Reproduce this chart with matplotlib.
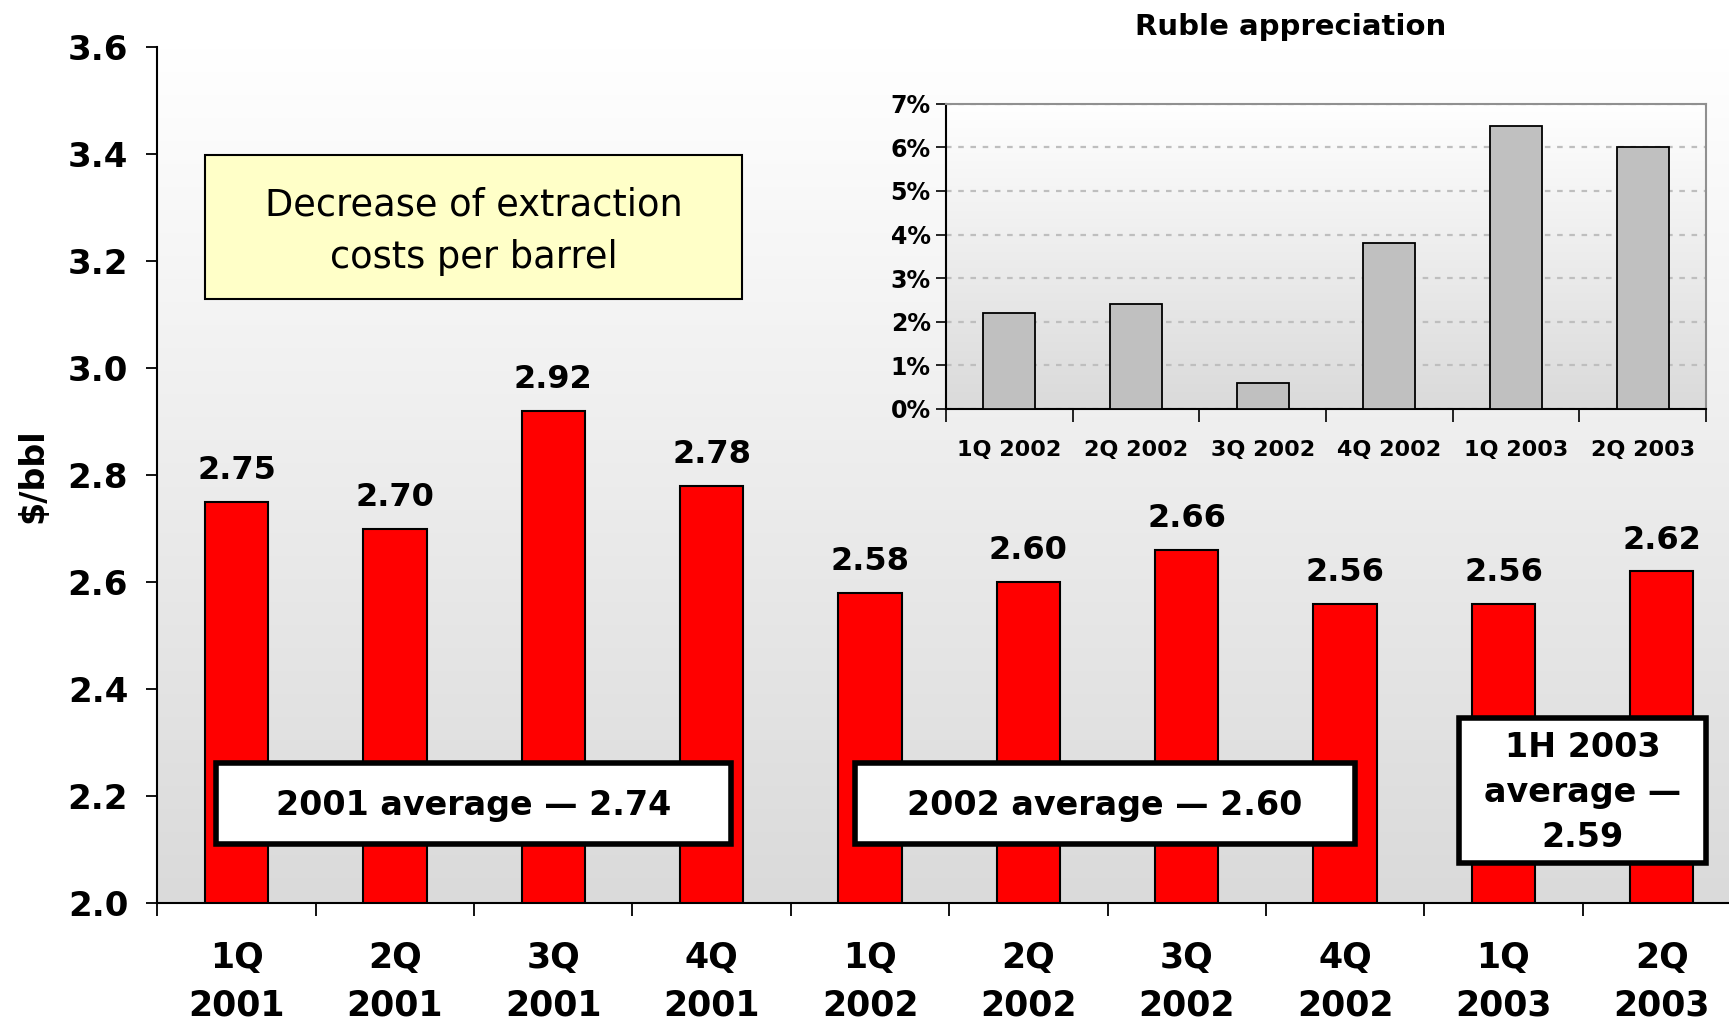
import numpy as np
import matplotlib
matplotlib.use("Agg")
import matplotlib.pyplot as plt
from matplotlib.patches import Rectangle

plt.rcParams['font.family'] = ['DejaVu Sans']

# ---- data ----
categories = ["1Q\n2001", "2Q\n2001", "3Q\n2001", "4Q\n2001", "1Q\n2002",
              "2Q\n2002", "3Q\n2002", "4Q\n2002", "1Q\n2003", "2Q\n2003"]
costs = [2.75, 2.70, 2.92, 2.78, 2.58, 2.60, 2.66, 2.56, 2.56, 2.62]
y_ticks = [2.0, 2.2, 2.4, 2.6, 2.8, 3.0, 3.2, 3.4, 3.6]

inset_categories = ["1Q 2002", "2Q 2002", "3Q 2002", "4Q 2002", "1Q 2003", "2Q 2003"]
ruble_appreciation = [2.2, 2.4, 0.6, 3.8, 6.5, 6.0]
inset_y_ticks = [0, 1, 2, 3, 4, 5, 6, 7]

title_box_text = "Decrease of extraction\ncosts per barrel"
avg_texts = ["2001 average \u2014 2.74", "2002 average \u2014 2.60", "1H 2003\naverage \u2014\n2.59"]
inset_title = "Ruble appreciation"
y_label = "$/bbl"

W, H = 1729, 1022
fig = plt.figure(figsize=(W / 100, H / 100), dpi=100)
fig.patch.set_facecolor("white")

def fx(px):
    return px / W

def fy(py):
    return 1 - py / H

grad = np.linspace(0, 1, 256).reshape(-1, 1)

def gradient_bg(ax, top=255, bottom=218):
    vals = top + (bottom - top) * grad
    img = np.dstack([vals, vals, vals]) / 255.0
    ax.imshow(img, extent=[0, 1, 0, 1], transform=ax.transAxes,
              aspect="auto", zorder=0, origin="upper", interpolation="bilinear")

# ---- main axes ----
left_px, right_px, top_px, bot_px = 157.4, 1741, 47.4, 903
ax = fig.add_axes([fx(left_px), fy(bot_px), fx(right_px - left_px), (bot_px - top_px) / H])
ax.set_facecolor("none")
gradient_bg(ax, 255, 218)

x = np.arange(len(costs))
ax.bar(x, costs, width=0.40, color="#FF0000", edgecolor="black", linewidth=1.5, zorder=2)
for xi, v in zip(x, costs):
    ax.annotate(f"{v:.2f}", (xi, v), xytext=(0, 16.5), textcoords="offset points",
                ha="center", va="baseline", fontsize=23, fontweight="bold", zorder=5)

ax.set_xlim(-0.5, len(costs) - 0.5)
ax.set_ylim(2.0, 3.6)
ax.set_yticks(y_ticks)
ax.set_yticklabels([f"{t:.1f}" for t in y_ticks], fontsize=24.5, fontweight="bold")
ax.tick_params(axis="y", direction="out", length=8, width=1.3, pad=13)
ax.set_xticks(np.arange(-0.5, len(costs), 1.0))
ax.set_xticklabels([])
ax.set_xticks(x, minor=True)
ax.set_xticklabels(categories, minor=True, fontsize=25, fontweight="bold", linespacing=1.52)
ax.tick_params(axis="x", which="major", direction="out", length=9, width=1.3)
ax.tick_params(axis="x", which="minor", length=0, pad=27)
for s in ["top", "right"]:
    ax.spines[s].set_visible(False)
for s in ["left", "bottom"]:
    ax.spines[s].set_linewidth(1.5)
ax.set_ylabel(y_label, fontsize=24, fontweight="bold")
ax.yaxis.set_label_coords(fx(33 - left_px) / fx(right_px - left_px), 0.5)
ax.yaxis.label.set_verticalalignment("center")

# ---- yellow title box ----
fig.patches.append(Rectangle((fx(205), fy(299)), fx(742 - 205), (299 - 155) / H,
                             transform=fig.transFigure, facecolor="#FFFFC8",
                             edgecolor="black", linewidth=1.5, zorder=3))
fig.text(fx((205 + 742) / 2), fy(231), title_box_text, ha="center", va="center",
         fontsize=26.5, linespacing=1.52, zorder=4)

# ---- average boxes ----
boxes = [(216, 763, 731, 844), (855, 763, 1355, 844), (1459, 718, 1706, 863)]
for (x0, y0, x1, y1), t in zip(boxes, avg_texts):
    fig.patches.append(Rectangle((fx(x0), fy(y1)), fx(x1 - x0), (y1 - y0) / H,
                                 transform=fig.transFigure, facecolor="white",
                                 edgecolor="black", linewidth=4, zorder=6))
    fig.text(fx((x0 + x1) / 2), fy((y0 + y1) / 2 + 2), t, ha="center", va="center",
             fontsize=24, fontweight="bold", linespacing=1.47, zorder=7)

# ---- inset ----
il, ir, it, ib = 946, 1706, 103.7, 409
iax = fig.add_axes([fx(il), fy(ib), fx(ir - il), (ib - it) / H], zorder=5)
iax.set_facecolor("none")
gradient_bg(iax, 255, 218)
ix = np.arange(len(ruble_appreciation))
iax.bar(ix, ruble_appreciation, width=0.41, color="#C0C0C0", edgecolor="black",
        linewidth=1.3, zorder=3)
iax.set_xlim(-0.5, len(ruble_appreciation) - 0.5)
iax.set_ylim(0, 7)
iax.set_yticks(inset_y_ticks)
iax.set_yticklabels([f"{t}%" for t in inset_y_ticks], fontsize=17, fontweight="bold")
iax.yaxis.grid(True, color="#BEBEBE", linestyle=(0, (2.5, 3)), linewidth=1.6, zorder=1)
iax.set_axisbelow(True)
iax.tick_params(axis="y", direction="out", length=7, width=1.2, pad=4)
iax.set_xticks(np.arange(-0.5, len(ruble_appreciation), 1.0))
iax.set_xticklabels([])
iax.set_xticks(ix, minor=True)
iax.set_xticklabels(inset_categories, minor=True, fontsize=16, fontweight="bold")
iax.tick_params(axis="x", which="major", direction="out", length=9, width=1.2)
iax.tick_params(axis="x", which="minor", length=0, pad=22)
for s in ["top", "right"]:
    iax.spines[s].set_color("#909090")
    iax.spines[s].set_linewidth(1.5)
for s in ["left", "bottom"]:
    iax.spines[s].set_color("black")
    iax.spines[s].set_linewidth(1.5)
fig.text(fx(1291), fy(27), inset_title, ha="center", va="center",
         fontsize=21, fontweight="bold")

fig.savefig("out.png", dpi=100)
